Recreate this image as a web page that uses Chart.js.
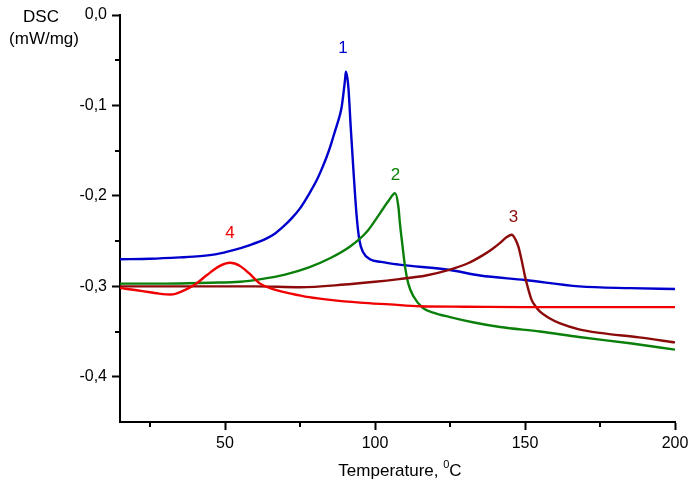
<!DOCTYPE html>
<html>
<head>
<meta charset="utf-8">
<script src="https://cdn.jsdelivr.net/npm/chart.js@4/dist/chart.umd.min.js"></script>
<style>
  html, body { margin: 0; padding: 0; background: #fff; }
  #wrap { width: 696px; height: 488px; }
</style>
</head>
<body>
<div id="wrap"><canvas id="dscChart" width="696" height="488"></canvas></div>
<script>
// Tick values
const xTicks = [50, 100, 150, 200];
const xMinorTicks = [25, 75, 125, 175];
const yTicks = [0, -0.1, -0.2, -0.3, -0.4];
const yMinorTicks = [-0.05, -0.15, -0.25, -0.35];

// Curve 1 (blue)
const temp1 = [15, 25, 35, 41.7, 47.2, 52.8, 58.3, 63.9, 66.7, 69.4, 72.2, 75, 77.8, 80.6, 82.2, 83.9, 85, 86.1, 87.2, 88.3, 88.9, 89.4, 90, 90.3, 91.1, 91.9, 92.8, 93.9, 94.8, 96, 98.3, 102, 108, 125, 135, 150, 168, 185, 200];
const dsc1 = [-0.270, -0.2695, -0.268, -0.2666, -0.2644, -0.260, -0.2544, -0.247, -0.2415, -0.2341, -0.2249, -0.2138, -0.1991, -0.1825, -0.1707, -0.1567, -0.1464, -0.1346, -0.1228, -0.1106, -0.1014, -0.089, -0.0719, -0.0627, -0.079, -0.1235, -0.171, -0.223, -0.249, -0.262, -0.270, -0.273, -0.276, -0.282, -0.288, -0.293, -0.300, -0.302, -0.303];

// Curve 2 (green)
const temp2 = [15, 30, 45, 55, 62, 70, 78, 85, 91.7, 97.2, 101.7, 104.4, 106.7, 107.8, 108.3, 109.2, 110, 111.1, 112.8, 116, 119.4, 125, 133, 141.7, 155, 168, 185, 200];
const dsc2 = [-0.297, -0.297, -0.296, -0.295, -0.292, -0.287, -0.279, -0.269, -0.256, -0.240, -0.219, -0.206, -0.197, -0.212, -0.230, -0.256, -0.278, -0.297, -0.311, -0.324, -0.329, -0.334, -0.340, -0.345, -0.350, -0.356, -0.363, -0.370];

// Curve 3 (dark red)
const temp3 = [15, 40, 60, 75, 90, 100, 108, 117, 125, 131, 136, 139, 141.7, 143.5, 145.6, 146.8, 147.8, 149, 150, 151, 152.2, 153.5, 155, 158, 161.7, 168, 175, 188, 200];
const dsc3 = [-0.300, -0.300, -0.300, -0.301, -0.298, -0.295, -0.292, -0.288, -0.2815, -0.2745, -0.2655, -0.259, -0.252, -0.2465, -0.243, -0.248, -0.256, -0.273, -0.289, -0.302, -0.315, -0.322, -0.328, -0.335, -0.341, -0.3475, -0.3515, -0.3565, -0.362];

// Curve 4 (red)
const temp4 = [15, 22, 28, 32, 36, 40, 44, 48, 51.7, 55, 58, 61.7, 66, 72, 78, 85, 95, 105, 115, 130, 150, 175, 200];
const dsc4 = [-0.302, -0.305, -0.308, -0.309, -0.305, -0.298, -0.2875, -0.278, -0.274, -0.2775, -0.2855, -0.297, -0.303, -0.308, -0.312, -0.315, -0.318, -0.320, -0.322, -0.3225, -0.323, -0.323, -0.323];

const FONT = 'Liberation Sans, Arial, sans-serif';

function toPoints(xs, ys) {
    return xs.map((x, i) => ({ x: x, y: ys[i] }));
}

function makeSet(xs, ys, color, order) {
    return {
        data: toPoints(xs, ys),
        borderColor: color,
        borderWidth: 2.4,
        pointRadius: 0,
        fill: false,
        cubicInterpolationMode: 'monotone',
        order: order
    };
}

// Minor ticks and free text (axis titles, curve numbers)
const decorPlugin = {
    id: 'decor',
    afterDraw(chart) {
        const ctx = chart.ctx;
        const xs = chart.scales.x;
        const ys = chart.scales.y;
        const area = chart.chartArea;

        ctx.save();
        ctx.strokeStyle = '#000';
        ctx.lineWidth = 2;
        xMinorTicks.forEach(v => {
            const px = Math.round(xs.getPixelForValue(v));
            ctx.beginPath();
            ctx.moveTo(px, area.bottom);
            ctx.lineTo(px, area.bottom + 5);
            ctx.stroke();
        });
        yMinorTicks.forEach(v => {
            const py = Math.round(ys.getPixelForValue(v));
            ctx.beginPath();
            ctx.moveTo(area.left, py);
            ctx.lineTo(area.left - 5, py);
            ctx.stroke();
        });

        // Y axis title
        ctx.fillStyle = '#000';
        ctx.textAlign = 'center';
        ctx.textBaseline = 'middle';
        ctx.font = '17px ' + FONT;
        ctx.fillText('DSC', 41, 17);
        ctx.fillText('(mW/mg)', 44, 39);

        // X axis title with superscript degree
        const mainFont = '17px ' + FONT;
        const supFont = '11px ' + FONT;
        ctx.font = mainFont;
        const w1 = ctx.measureText('Temperature, ').width;
        const w3 = ctx.measureText('C').width;
        ctx.font = supFont;
        const w2 = ctx.measureText('0').width;
        let x0 = 400 - (w1 + w2 + w3) / 2;
        ctx.textAlign = 'left';
        ctx.font = mainFont;
        ctx.fillText('Temperature, ', x0, 471);
        ctx.font = supFont;
        ctx.fillText('0', x0 + w1, 465);
        ctx.font = mainFont;
        ctx.fillText('C', x0 + w1 + w2, 471);

        // Curve numbers
        ctx.textAlign = 'center';
        ctx.font = '17px ' + FONT;
        const labels = [
            ['1', 89.3, -0.037, '#0000cc'],
            ['2', 106.8, -0.177, '#0a800a'],
            ['3', 146.2, -0.224, '#8b0a0a'],
            ['4', 51.7, -0.241, '#f00000']
        ];
        labels.forEach(([t, x, y, c]) => {
            ctx.fillStyle = c;
            ctx.fillText(t, xs.getPixelForValue(x), ys.getPixelForValue(y));
        });
        ctx.restore();
    }
};

const ctx = document.getElementById('dscChart').getContext('2d');
const dscChart = new Chart(ctx, {
    type: 'line',
    data: {
        datasets: [
            makeSet(temp1, dsc1, '#0000cc', 4),
            makeSet(temp2, dsc2, '#0a800a', 3),
            makeSet(temp3, dsc3, '#8b0a0a', 2),
            makeSet(temp4, dsc4, '#f00000', 1)
        ]
    },
    options: {
        responsive: false,
        animation: false,
        layout: { padding: { left: 0, top: 15, right: 21, bottom: 0 } },
        plugins: {
            legend: { display: false },
            tooltip: { enabled: false }
        },
        scales: {
            x: {
                type: 'linear',
                min: 15,
                max: 200,
                afterBuildTicks: (scale) => { scale.ticks = xTicks.map(v => ({ value: v })); },
                afterFit: (scale) => { scale.height = 66; },
                grid: { display: true, drawOnChartArea: false, drawTicks: true, tickLength: 8, tickWidth: 2, tickColor: '#000' },
                border: { display: true, color: '#000', width: 2 },
                ticks: { color: '#000', font: { family: FONT, size: 16 }, padding: 4, maxRotation: 0 }
            },
            y: {
                type: 'linear',
                min: -0.45,
                max: 0,
                afterBuildTicks: (scale) => { scale.ticks = yTicks.map(v => ({ value: v })); },
                afterFit: (scale) => { scale.width = 120; },
                grid: { display: true, drawOnChartArea: false, drawTicks: true, tickLength: 8, tickWidth: 2, tickColor: '#000' },
                border: { display: true, color: '#000', width: 2 },
                ticks: {
                    color: '#000',
                    font: { family: FONT, size: 16 },
                    padding: 5,
                    callback: (v) => (Math.abs(v) < 1e-9 ? '0,0' : v.toFixed(1).replace('.', ','))
                }
            }
        }
    },
    plugins: [decorPlugin]
});
</script>
</body>
</html>
